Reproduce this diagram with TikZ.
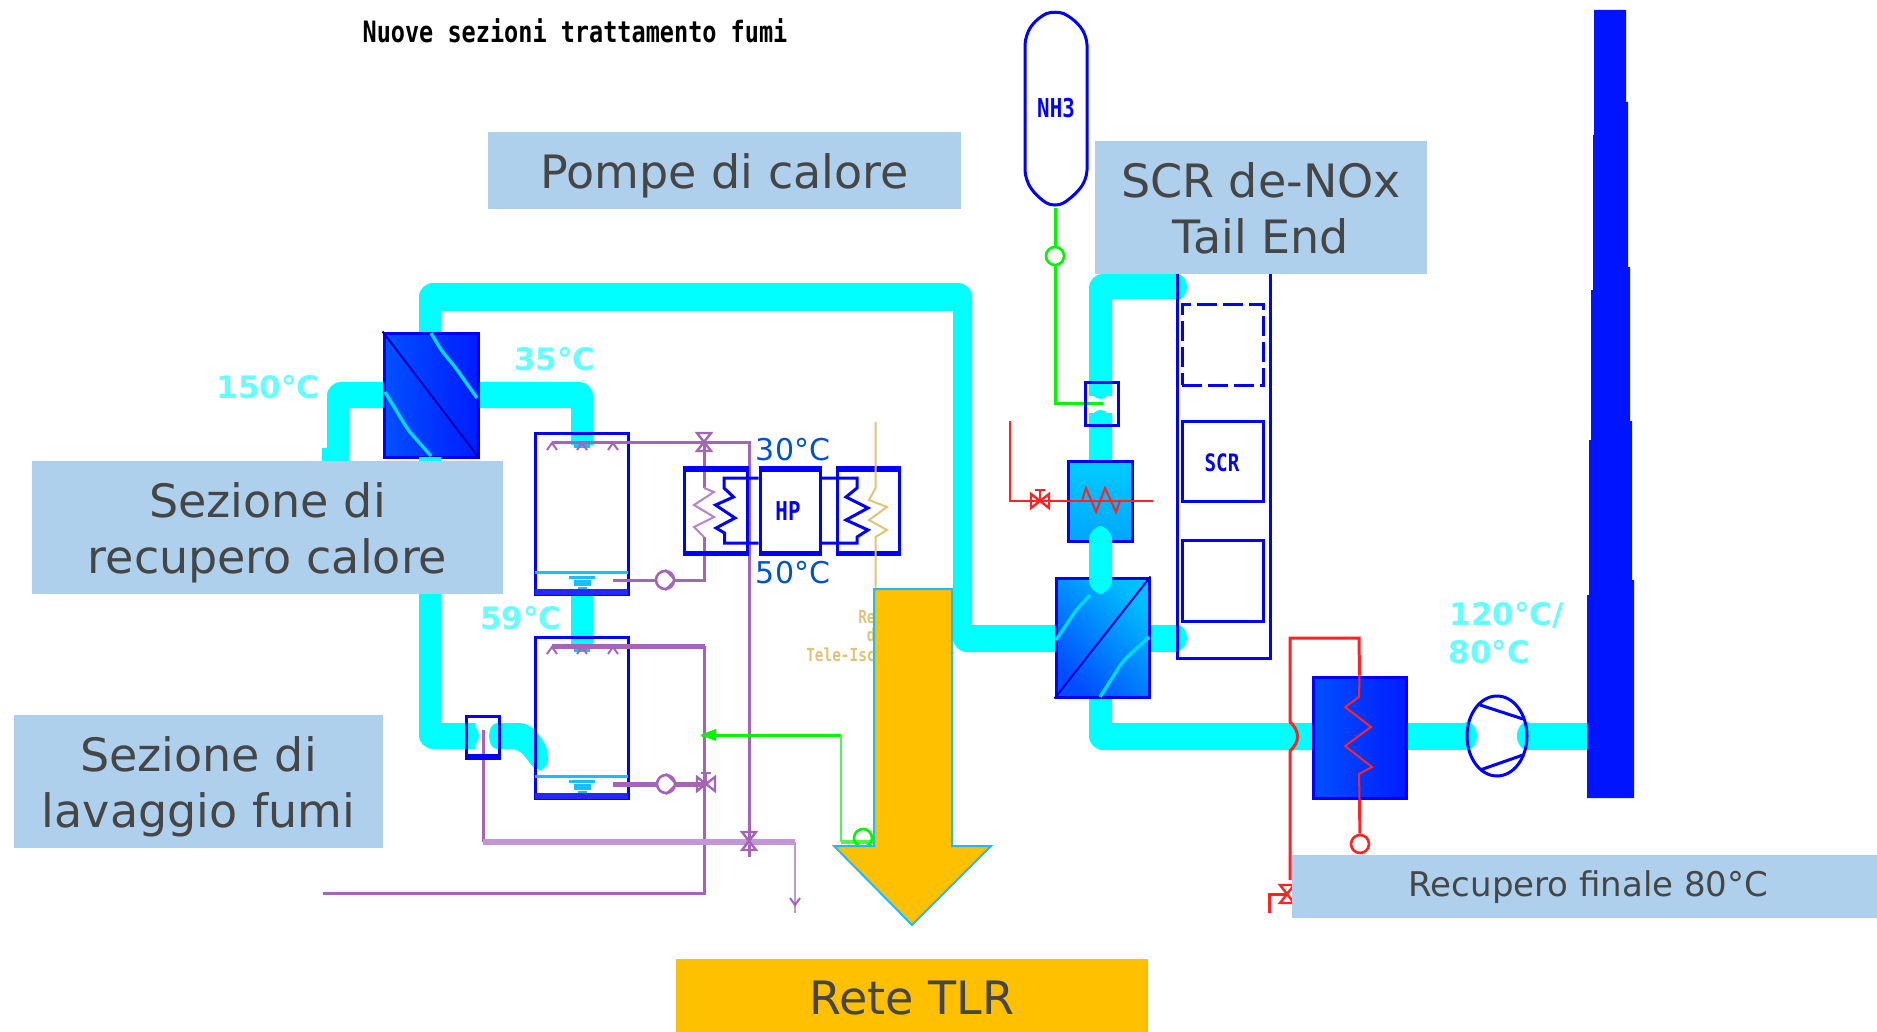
\documentclass[tikz,border=0pt]{standalone}
\usepackage{fontspec}
\setmainfont{DejaVu Sans}
\newfontfamily\cadfont[FakeStretch=0.8,BoldFont={DejaVu Sans Mono Bold}]{DejaVu Sans Mono}
\definecolor{P1}{RGB}{0,255,255}
\definecolor{B1}{RGB}{0,0,255}
\definecolor{L1}{RGB}{174,208,236}
\definecolor{O1}{RGB}{255,192,0}
\definecolor{V1}{RGB}{165,100,185}
\definecolor{V2}{RGB}{195,150,215}
\definecolor{T1}{RGB}{222,196,120}
\definecolor{G1}{RGB}{0,245,0}
\definecolor{R1}{RGB}{255,35,35}
\definecolor{W1}{RGB}{25,190,255}
\definecolor{X1}{RGB}{70,70,70}
\definecolor{E1}{RGB}{0,80,255}
\definecolor{E2}{RGB}{0,28,255}
\tikzset{
  pipe/.style={fill=P1},
  box/.style={draw=B1, line width=1.5pt, minimum width=#1, inner sep=0pt},
  exch/.style={draw=B1, line width=1.5pt, inner sep=0pt, left color=E1, right color=E2},
  wavy/.style={P1!85!B1, line width=1.7pt, rounded corners=3},
  label/.style={fill=L1, text=X1, align=center, inner sep=0pt, font=\fontsize{23}{28}\selectfont},
  hot/.style={text=P1!60!white, font=\fontsize{15.5}{18}\selectfont\bfseries, inner sep=0pt},
  temp/.style={text=blue!60!cyan!80!black, font=\fontsize{15}{18}\selectfont, inner sep=0pt},
  cad/.style={text=B1, inner sep=0pt, font=\fontsize{#1}{#1}\selectfont\cadfont\bfseries},
  pumpnode/.style={draw, line width=1.3pt, circle, minimum size=9pt, inner sep=0pt},
}
\newcommand{\alza}[1]{\rule{0pt}{#1}}
\newcommand{\valvev}[2]{\draw[#2, line width=1.2pt] ([shift={(-7,-9)}]#1) -- ([shift={(7,9)}]#1) -- ([shift={(-7,9)}]#1) -- ([shift={(7,-9)}]#1) -- cycle;}
\newcommand{\valveh}[2]{\draw[#2, line width=1.2pt] ([shift={(-9,-7)}]#1) -- ([shift={(9,7)}]#1) -- ([shift={(9,-7)}]#1) -- ([shift={(-9,7)}]#1) -- cycle;
  \draw[#2, line width=1.2pt] (#1) -- ([shift={(0,-11)}]#1) ([shift={(-5,-11)}]#1) -- ([shift={(5,-11)}]#1);}
\begin{document}
\begin{tikzpicture}[x=0.5pt, y=-0.5pt]
  \useasboundingbox (0,0) rectangle (1877,1032);
  \node[cad=14.7, text=black] (titolo) at (575,31) {Nuove sezioni trattamento fumi};

  % condotti fumi
  \fill[pipe] (419,345) [rounded corners=7] --(419,283)--(972,283) [sharp corners] --(972,625)--(1070,625)--(1070,652) [rounded corners=7] --(953,652) [sharp corners] --(953,311)--(441,311)--(441,345)--cycle;
  \fill[pipe] (327,470) [rounded corners=7] --(327,382) [sharp corners] --(400,382)--(400,408)--(349,408)--(349,470)--cycle;
  \fill (322,448) [P1] rectangle (340,470);
  \fill[pipe] (470,382) [rounded corners=7] --(593,382) [sharp corners] --(593,445)--(571,445)--(571,408)--(470,408)--cycle;
  \fill[P1] (571,590) rectangle (593,645);
  \fill[pipe] (419,450) [rounded corners=7] --(419,749) [sharp corners] --(475,749)--(475,723)--(441,723)--(441,450)--cycle;
  \fill[P1, rounded corners=4] (490,723)--(528,723)--(545,742)--(549,757)--(546,770)--(536,771)--(519,749)--(490,749)--cycle;
  \fill[pipe] (1177,274) [rounded corners=7] --(1089,274) [sharp corners] --(1089,470)--(1112,470)--(1112,299)--(1177,299)--cycle;
  \fill[pipe] (1089,690) [rounded corners=7] --(1089,750) [sharp corners] --(1320,750)--(1320,723)--(1112,723)--(1112,690)--cycle;
  \fill[P1] (1140,625) rectangle (1177,652);
  \fill[P1] (1400,723) rectangle (1470,750);
  \fill[P1] (1525,723) rectangle (1592,750);
  \fill[P1] (1177,287) ellipse (10 and 13);
  \fill[P1] (1177,638) ellipse (10 and 13);

  % torri di lavaggio
  \node[box=46.5pt, minimum height=80.5pt] (torrea) at (581.5,513.5) {};
  \node[box=46.5pt, minimum height=80.5pt] (torreb) at (581.5,717.5) {};
  \foreach \y in {0,204}{
    \draw[W1, line width=1.5pt] (535,572+\y)--(628,572+\y);
    \fill[W1] (569,576+\y) rectangle (595,579+\y);
    \fill[W1] (574,580+\y) rectangle (591,586+\y);
    \fill[W1] (578,587+\y) rectangle (587,590+\y);
    \draw[B1!85!white, line width=3pt] (535,592+\y)--(628,592+\y);
    \fill[W1] (574,443+\y) rectangle (590,448+\y);
    \foreach \x in {552,582,613}
      \draw[V1, line width=1pt] (\x-5,450+\y)--(\x,443+\y)--(\x+5,450+\y);
  }

  % circuito viola
  \coordinate (ugella) at (552,442);
  \coordinate (ugellb) at (552,646);
  \coordinate (valvea) at (704,442);
  \coordinate (nodoa) at (749,442);
  \coordinate (valveb) at (749,841);
  \coordinate (codaa) at (749,857);
  \coordinate (spira) at (704,488);
  \coordinate (spirb) at (704,537);
  \coordinate (gomito) at (704,580);
  \coordinate (prela) at (613,580);
  \coordinate (prelb) at (613,784);
  \coordinate (valvec) at (706,784);
  \coordinate (angolo) at (704.5,646);
  \coordinate (fondo) at (704.5,893);
  \coordinate (ritorno) at (323,893);
  \coordinate (collea) at (483,842);
  \coordinate (colleb) at (795,842);
  \coordinate (scarico) at (795,913);
  \coordinate (ventin) at (483,730);
  \node[pumpnode, draw=V1] (pompaa) at (665,580) {};
  \node[pumpnode, draw=V1] (pompab) at (666,784) {};
  \draw[V1, line width=1.5pt] (ugella)--(nodoa)--(valveb)--(codaa);
  \draw[V1, line width=1.5pt] (valvea)--(spira);
  \draw[V1!80!white, line width=1pt] (spira)--(714,492)--(694,505)--(714,517)--(694,527)--(spirb);
  \draw[V1, line width=1.5pt] (spirb)--(gomito)--(pompaa)--(prela);
  \draw[V1, line width=2.5pt] (ugellb)--(angolo);
  \draw[V1, line width=1.5pt] (angolo)--(fondo)--(ritorno);
  \draw[V1, line width=2.5pt] (prelb)--(pompab)--(valvec);
  \draw[V1, line width=1.5pt] (ventin)--(collea);
  \draw[V2, line width=3pt] (collea)--(colleb);
  \draw[V2, line width=1pt] (colleb)--(scarico);
  \draw[V1, line width=1pt] (790,898)--(795,905)--(800,898);
  \valvev{valvea}{V1}
  \valveh{valvec}{V1}
  \valvev{valveb}{V1}
  \draw[V1, line width=1pt] (pompaa.north)--(pompaa.east)--(pompaa.south);
  \draw[V1, line width=1pt] (pompab.north)--(pompab.east)--(pompab.south);

  % venturi lavaggio
  \fill[P1] (466,736) ellipse (13 and 13);
  \fill[P1] (499,736) ellipse (10 and 13);
  \node[box=16.5pt, minimum height=21pt] (venta) at (482.5,737) {};
  \draw[B1, line width=2.5pt] (466,756)--(499,756);

  % scambiatori
  \node[exch, minimum width=47pt, minimum height=62pt] (hxa) at (431,395) {};
  \draw[B1!70!black, line width=1pt] (hxa.north west)--(hxa.south east);
  \draw[wavy] (431,333)--(441,350)--(455,367)--(477,398);
  \draw[wavy] (385,392)--(408,430)--(431,456);
  \fill[P1] (419,457) rectangle (441,461);

  % pompa di calore
  \node[box=31.5pt, minimum height=41pt] (hpa) at (715.5,511) {};
  \node[box=30pt, minimum height=41pt] (hpb) at (790,511) {};
  \node[box=31pt, minimum height=41pt] (hpc) at (868,511) {};
  \foreach \b in {hpa,hpb,hpc}{
    \draw[B1, line width=2.2pt] (\b.north west)--(\b.north east);
    \draw[B1, line width=2.2pt] (\b.south west)--(\b.south east);
  }
  \node[cad=13] (hplab) at (788,511) {HP};
  \draw[B1, line width=1.5pt] (hpb.west |- 0,478)--(724,478)--(724,488)--(733.5,497)--(715.5,505)--(735,518)--(716,528)--(724.5,533)--(724.5,543)--(hpb.west |- 0,543);
  \draw[B1, line width=1.5pt] (hpb.east |- 0,478)--(857,478)--(857,488)--(846,497)--(868,508)--(846,520)--(868,530)--(857,537)--(857,543)--(hpb.east |- 0,543);
  \draw[T1, line width=1pt] (875.5,422)--(875.5,488)--(869,500)--(887,507)--(869,520)--(887,530)--(875.5,537)--(875.5,595);
  \node[temp] (ta) at (793,450) {30°C};
  \node[temp] (tb) at (793,573) {50°C};

  % circuito verde
  \coordinate (verdea) at (702,735);
  \coordinate (verdeb) at (841,735);
  \coordinate (verdec) at (841,842);
  \coordinate (verded) at (880,842);
  \draw[G1, line width=1.5pt] (verdeb)--(verdea);
  \fill[G1] (700,735)--(716,729)--(716,741)--cycle;
  \draw[G1!70!white, line width=1pt] (verdeb)--(verdec);
  \draw[G1!70!white, line width=2pt] (verdec)--(verded);
  \node[pumpnode, draw=G1] (pompac) at (863,838) {};

  % tele
  \node[cad=9, text=T1, anchor=east] (tele1) at (876,617) {Re};
  \node[cad=9, text=T1, anchor=east] (tele2) at (876,635) {d};
  \node[cad=9, text=T1, anchor=east] (tele3) at (876,655) {Tele-Isc};
  \draw[W1, line width=1pt, fill=O1] (874,589)--(952,589)--(952,846)--(991,846)--(912,925)--(834,846)--(874,846)--cycle;

  % NH3
  \node[cad=13] (nh3) at (1056,108) {NH3};
  \draw[B1, line width=1.5pt, rounded corners=5] (1025,35)--(1038,17)--(1055,10)--(1072,17)--(1087,35)--(1087,180)--(1072,198)--(1055,208)--(1038,198)--(1025,180)--cycle;
  \coordinate (serb) at (1055,208);

  % venturi SCR
  \fill[white] (1085,396) rectangle (1118,413);
  \fill[P1] (1100.5,385) ellipse (11.5 and 14);
  \fill[P1] (1100.5,425) ellipse (11.5 and 15);
  \coordinate (iniea) at (1055,403);
  \coordinate (inieb) at (1103,403);
  \draw[G1, line width=1.5pt] (serb)--(iniea)--(inieb);
  \node[pumpnode, draw=G1, fill=white] (pompad) at (1055,256) {};
  \node[box=16.5pt, minimum height=21.5pt] (ventb) at (1101.5,403.5) {};

  % riscaldatore
  \node[draw=B1, line width=1.5pt, inner sep=0pt, minimum width=32pt, minimum height=40pt,
        top color=cyan!80!blue, middle color=blue!40!cyan, bottom color=cyan!65!blue] (heat) at (1100,501.5) {};
  \coordinate (rossoa) at (1010,421);
  \coordinate (rossob) at (1010,501);
  \coordinate (valved) at (1040,501);
  \coordinate (rossoc) at (1153,501);
  \draw[R1, line width=1pt] (rossoa)--(rossob)--(rossoc);
  \draw[R1, line width=1pt] (1082,501)--(1086,488)--(1096,512)--(1105,488)--(1116,512)--(1120,501);
  \valveh{valved}{R1}

  % reattore
  \node[box=46.5pt, minimum height=200pt] (reatt) at (1223.5,458) {};
  \node[box=40.5pt, minimum height=40.5pt, dashed, dash pattern=on 10pt off 3pt] (catb) at (1222.5,344.5) {};
  \node[box=40.5pt, minimum height=40pt] (cata) at (1222.5,461) {};
  \node[box=40.5pt, minimum height=40.5pt] (catc) at (1222.5,580.5) {};
  \node[cad=12] (scrlab) at (1222,463) {SCR};

  % scambiatore gas-gas
  \node[exch, minimum width=46.5pt, minimum height=59.5pt, left color=blue!70!cyan, right color=cyan!75!blue, shading angle=135] (hxb) at (1102.5,637.5) {};
  \draw[B1!80!black, line width=1pt] (hxb.south west)--(hxb.north east);
  \draw[wavy] (1056,640)--(1077,609)--(1090,595);
  \draw[wavy] (1100,697)--(1123,661)--(1149,637);
  \fill[pipe, rounded corners=7] (1089,526)--(1112,526)--(1112,594)--(1089,594)--cycle;

  % recupero finale
  \node[exch, minimum width=46.5pt, minimum height=60.5pt] (hxc) at (1359.5,737.5) {};
  \coordinate (caldoa) at (1359,638);
  \coordinate (caldob) at (1290,638);
  \coordinate (caldoc) at (1290,722);
  \coordinate (caldod) at (1290,751);
  \coordinate (caldoe) at (1290,880);
  \coordinate (valvee) at (1287,894);
  \coordinate (caldof) at (1269,894);
  \coordinate (caldog) at (1269,913);
  \draw[R1, line width=1.5pt] (hxc.north)--(caldoa)--(caldob)--(caldoc) .. controls (1300,731) and (1300,742) .. (caldod)--(caldoe);
  \draw[R1, line width=1.5pt] (valvee)--(caldof)--(caldog);
  \valvev{valvee}{R1}
  \draw[R1, line width=1pt] (hxc.north)--(1359,697)--(1345,707)--(1371,727)--(1345,746)--(1372,767)--(1359,774)--(hxc.south);
  \node[pumpnode, draw=R1, fill=white] (pompae) at (1360,844) {};
  \draw[R1, line width=1.5pt] (hxc.south)--(pompae);

  % ventilatore
  \fill[P1] (1467,736) ellipse (10 and 14);
  \fill[P1] (1527,736) ellipse (10 and 14);
  \draw[B1, line width=1.5pt] (1497,736) ellipse (30 and 40);
  \draw[B1, line width=1.5pt] (1480,705)--(1523,719) (1480,770)--(1523,755);

  % camino
  \fill[B1!92!cyan] (1594,10)--(1626,10)--(1626,102)--(1628,102)--(1628,267)--(1630,267)--(1630,421)--(1632,421)--(1632,580)--(1634,580)--(1634,798)--(1587,798)--(1587,595)--(1589,595)--(1589,440)--(1591,440)--(1591,290)--(1593,290)--(1593,135)--(1594,135)--cycle;

  % scritte
  \node[label, minimum width=236.5pt, minimum height=38.5pt] (pompe) at (724.5,170.5) {\alza{23pt}Pompe di calore};
  \node[label, minimum width=166pt, minimum height=66.5pt] (tailend) at (1261,207.5) {\alza{18pt}SCR de-NOx\\Tail End};
  \node[label, minimum width=235.5pt, minimum height=66.5pt] (recup) at (267.5,527.5) {\alza{23pt}Sezione di\\recupero calore};
  \node[label, minimum width=184.5pt, minimum height=66.5pt] (lavag) at (198.5,781.5) {\alza{23pt}Sezione di\\lavaggio fumi};
  \node[label, minimum width=292.5pt, minimum height=31.5pt, font=\fontsize{17}{20}\selectfont] (finale) at (1584.5,886.5) {\alza{14pt}\hspace*{4pt}Recupero finale 80°C};
  \node[label, fill=O1, minimum width=236pt, minimum height=37pt] (rete) at (912,995.5) {\alza{19pt}Rete TLR};
  \node[hot] (t150) at (268,387) {150°C};
  \node[hot] (t35) at (555,359) {35°C};
  \node[hot] (t59) at (521,618) {59°C};
  \node[hot, anchor=west] (t120) at (1449,615) {120°C/};
  \node[hot, anchor=west] (t80) at (1448,652) {80°C};
\end{tikzpicture}
\end{document}
